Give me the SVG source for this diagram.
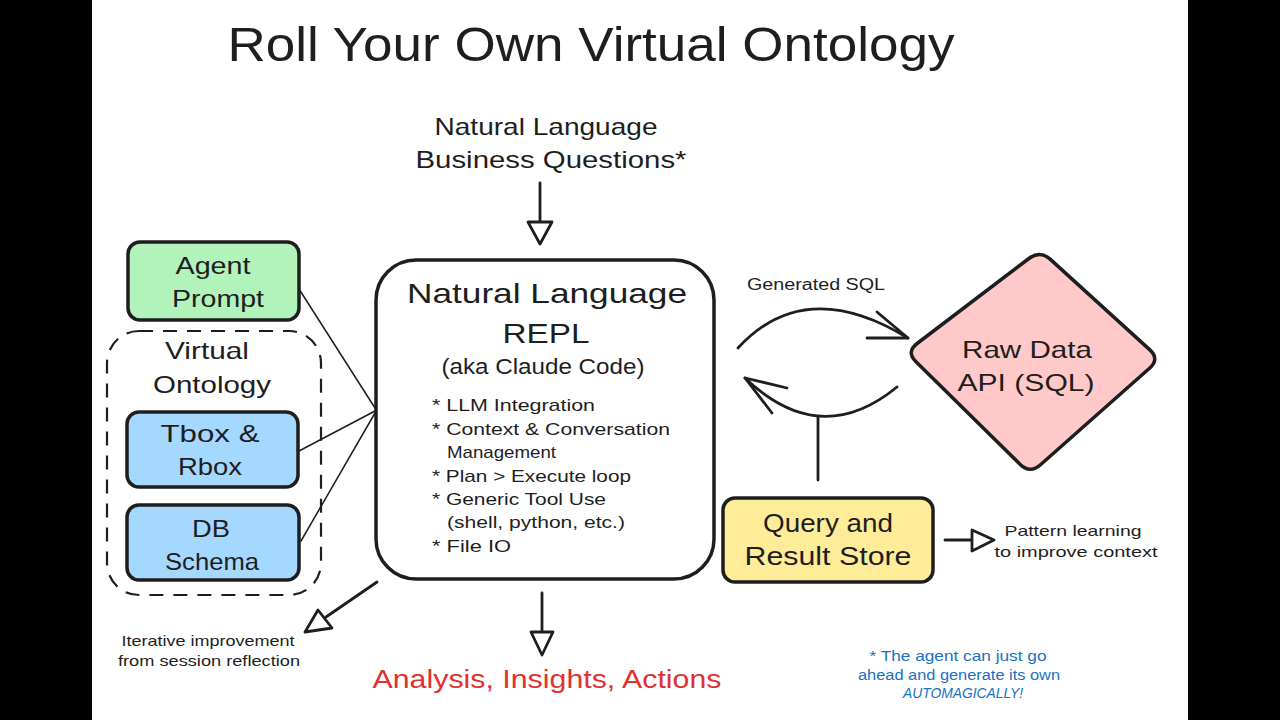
<svg xmlns="http://www.w3.org/2000/svg" width="1280" height="720" viewBox="0 0 1280 720">
<style>
text{font-family:"Liberation Sans",Arial,sans-serif;fill:#1e1e1e;text-anchor:middle}
.box{stroke:#1e1e1e;stroke-width:3.5}
.ln{stroke:#1e1e1e;stroke-width:2.8;fill:none;stroke-linecap:round;stroke-linejoin:round}
.thin{stroke:#1e1e1e;stroke-width:1.5;fill:none;stroke-linecap:round}
.head{stroke:#1e1e1e;stroke-width:2.8;fill:#fff;stroke-linejoin:round}
.lbl{font-size:24px}
.bul{font-size:17px;text-anchor:start}
.sm{font-size:15px}
.blue{font-size:14px;fill:#1971c2}
</style>
<rect x="0" y="0" width="1280" height="720" fill="#000"/>
<rect x="92" y="0" width="1096" height="720" fill="#fff"/>

<text x="591" y="61" font-size="48" textLength="727" lengthAdjust="spacingAndGlyphs">Roll Your Own Virtual Ontology</text>

<g id="question">
<text x="546" y="135" font-size="24" textLength="223" lengthAdjust="spacingAndGlyphs">Natural Language</text>
<text x="551" y="168" font-size="24" textLength="271" lengthAdjust="spacingAndGlyphs">Business Questions*</text>
</g>

<g id="virtual-ontology">
<rect x="107" y="331" width="214" height="264" rx="32" fill="none" stroke="#1e1e1e" stroke-width="2.2" stroke-dasharray="14 10"/>
<text x="207" y="359" class="lbl" textLength="84" lengthAdjust="spacingAndGlyphs">Virtual</text>
<text x="212" y="393" class="lbl" textLength="118" lengthAdjust="spacingAndGlyphs">Ontology</text>
</g>

<g id="agent-prompt">
<rect x="128" y="242" width="171" height="78" rx="12" fill="#b2f2bb" class="box"/>
<text x="213" y="274" class="lbl" textLength="75" lengthAdjust="spacingAndGlyphs">Agent</text>
<text x="218" y="307" class="lbl" textLength="92" lengthAdjust="spacingAndGlyphs">Prompt</text>
</g>

<g id="tbox-rbox">
<rect x="127" y="412" width="171" height="75" rx="12" fill="#a5d8ff" class="box"/>
<text x="210" y="442" class="lbl" textLength="99" lengthAdjust="spacingAndGlyphs">Tbox &amp;</text>
<text x="210" y="475" class="lbl" textLength="64" lengthAdjust="spacingAndGlyphs">Rbox</text>
</g>

<g id="db-schema">
<rect x="127" y="505" width="172" height="75" rx="12" fill="#a5d8ff" class="box"/>
<text x="211" y="537" class="lbl" textLength="38" lengthAdjust="spacingAndGlyphs">DB</text>
<text x="212" y="570" class="lbl" textLength="94" lengthAdjust="spacingAndGlyphs">Schema</text>
</g>

<g id="repl">
<rect x="376" y="260" width="338" height="319" rx="40" fill="#fff" class="box"/>
<text x="547" y="303" font-size="28" textLength="280" lengthAdjust="spacingAndGlyphs">Natural Language</text>
<text x="546" y="343" font-size="28" textLength="87" lengthAdjust="spacingAndGlyphs">REPL</text>
<text x="543" y="374" font-size="22" textLength="203" lengthAdjust="spacingAndGlyphs">(aka Claude Code)</text>
<text x="432" y="411" class="bul" textLength="163" lengthAdjust="spacingAndGlyphs">* LLM Integration</text>
<text x="432" y="435" class="bul" textLength="238" lengthAdjust="spacingAndGlyphs">* Context &amp; Conversation</text>
<text x="447" y="458" class="bul" textLength="109" lengthAdjust="spacingAndGlyphs">Management</text>
<text x="432" y="482" class="bul" textLength="199" lengthAdjust="spacingAndGlyphs">* Plan &gt; Execute loop</text>
<text x="432" y="505" class="bul" textLength="174" lengthAdjust="spacingAndGlyphs">* Generic Tool Use</text>
<text x="447" y="528" class="bul" textLength="178" lengthAdjust="spacingAndGlyphs">(shell, python, etc.)</text>
<text x="432" y="552" class="bul" textLength="79" lengthAdjust="spacingAndGlyphs">* File IO</text>
</g>

<g id="raw-data">
<path d="M1050.4,259.4 L1149.6,349.6 Q1160,359 1149.5,368.3 L1040.5,464.7 Q1030,474 1020,464.2 L916,361.8 Q906,352 917.1,343.5 L1028.9,258.5 Q1040,250 1050.4,259.4 Z" fill="#ffc9c9" class="box" stroke-width="4"/>
<text x="1027" y="358" class="lbl" textLength="130" lengthAdjust="spacingAndGlyphs">Raw Data</text>
<text x="1026" y="391" class="lbl" textLength="137" lengthAdjust="spacingAndGlyphs">API (SQL)</text>
</g>

<g id="query-store">
<rect x="723" y="498" width="210" height="84" rx="12" fill="#ffec99" class="box"/>
<text x="828" y="532" font-size="25" textLength="130" lengthAdjust="spacingAndGlyphs">Query and</text>
<text x="828" y="565" font-size="25" textLength="167" lengthAdjust="spacingAndGlyphs">Result Store</text>
</g>

<g id="labels">
<text x="816" y="290" font-size="16" textLength="138" lengthAdjust="spacingAndGlyphs">Generated SQL</text>
<text x="1073" y="536" class="sm" textLength="137" lengthAdjust="spacingAndGlyphs">Pattern learning</text>
<text x="1076" y="557" class="sm" textLength="163" lengthAdjust="spacingAndGlyphs">to improve context</text>
<text x="208" y="646" class="sm" textLength="173" lengthAdjust="spacingAndGlyphs">Iterative improvement</text>
<text x="209" y="666" class="sm" textLength="182" lengthAdjust="spacingAndGlyphs">from session reflection</text>
<text x="547" y="688" font-size="26" style="fill:#e03131" textLength="349" lengthAdjust="spacingAndGlyphs">Analysis, Insights, Actions</text>
<text x="958" y="661" class="blue" textLength="177" lengthAdjust="spacingAndGlyphs">* The agent can just go</text>
<text x="959" y="680" class="blue" textLength="202" lengthAdjust="spacingAndGlyphs">ahead and generate its own</text>
<text x="963" y="698" class="blue" font-style="italic" textLength="120" lengthAdjust="spacingAndGlyphs">AUTOMAGICALLY!</text>
</g>

<g id="connectors">
<line x1="540" y1="183" x2="540" y2="222" class="ln"/>
<path d="M528,222 L552,222 L540,244 Z" class="head"/>
<line x1="299" y1="289" x2="375" y2="408" class="thin"/>
<line x1="299" y1="451" x2="375" y2="411" class="thin"/>
<line x1="301" y1="541" x2="375" y2="413" class="thin"/>
<line x1="542" y1="593" x2="542" y2="632" class="ln"/>
<path d="M531,632 L553,632 L542,655 Z" class="head"/>
<line x1="377" y1="582" x2="326" y2="617" class="ln"/>
<path d="M318,610 L332,628 L305,632 Z" class="head"/>
<line x1="945" y1="540" x2="972" y2="540" class="ln"/>
<path d="M972,530 L972,551 L994,540 Z" class="head"/>
<path d="M738,348 Q805,275 908,338" class="ln" stroke-width="3.5"/>
<path d="M877,312 L908,338 L867,338" class="ln" stroke-width="3.5"/>
<path d="M897,387 Q820,450 745,378" class="ln" stroke-width="3.5"/>
<path d="M787,388 L745,378 L772,413" class="ln" stroke-width="3.5"/>
<line x1="818" y1="418" x2="818" y2="480" class="ln" stroke-width="3.5"/>
</g>
</svg>
